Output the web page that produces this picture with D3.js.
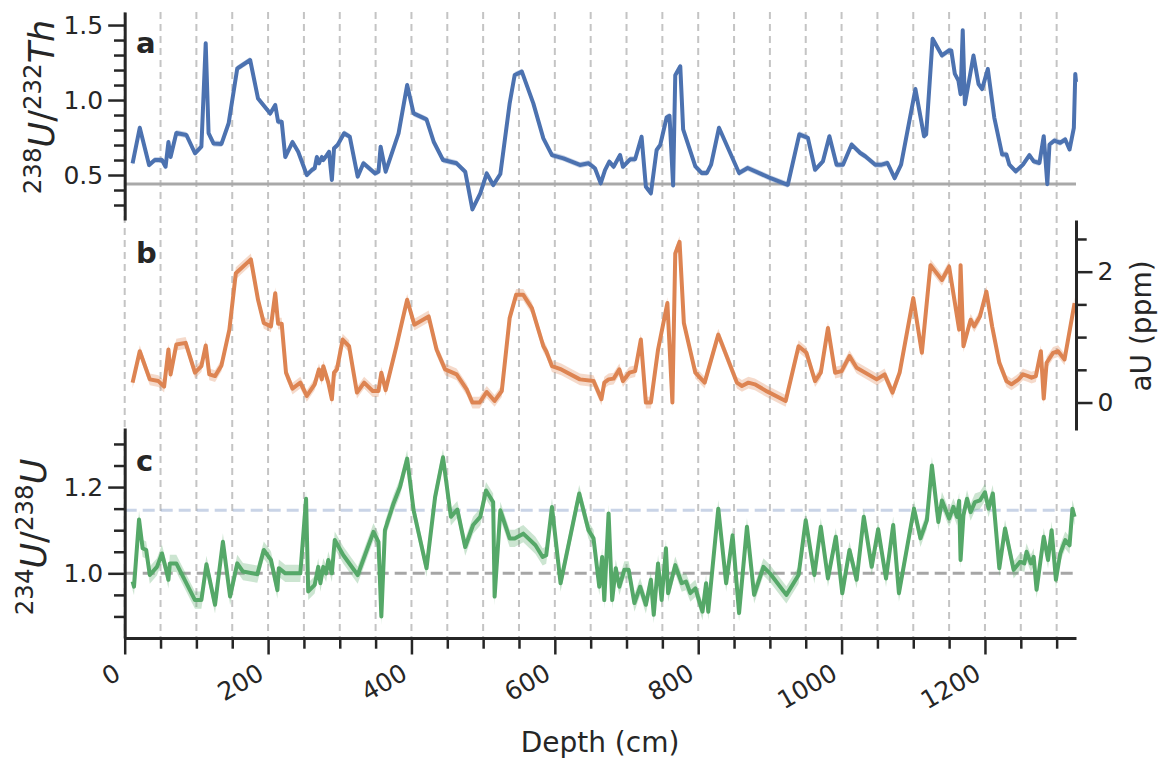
<!DOCTYPE html>
<html>
<head>
<meta charset="utf-8">
<script src="https://cdn.jsdelivr.net/npm/d3@7"></script>
<style>
  body { margin: 0; background: #fff; }
  text { font-family: "DejaVu Sans", sans-serif; fill: #262626; }
</style>
</head>
<body>
<div id="main"></div>
<script>
// panel a: 238U/232Th activity ratio
const depthA = [11,21,34,42,52,57,61,64,72,86,98,107,113,117,124,135,145,157,175,186,
    203,210,214,219,224,234,242,254,261,265,268,271,275,277,282,285,289,292,297,306,
    314,325,333,349,354,357,364,382,394,403,421,431,444,463,475,485,496,505,514,524,
    537,544,554,570,584,596,612,635,647,656,664,670,676,682,691,695,705,712,721,727,
    734,742,747,756,760,765,768,775,779,796,805,812,818,829,857,869,901,925,941,953,
    963,974,983,993,1002,1014,1026,1033,1047,1056,1064,1074,1083,1103,1115,1118,1127,1140,1150,1153,
    1158,1163,1166,1169,1172,1184,1191,1196,1204,1213,1224,1230,1234,1243,1253,1262,1268,1276,1282,1287,
    1290,1297,1305,1312,1318,1324,1326,1327];
const ratioA = [0.578,0.815,0.567,0.60,0.60,0.555,0.72,0.62,0.78,0.767,0.645,0.69,1.378,0.78,0.71,0.707,0.845,1.21,1.267,1.01,
    0.91,0.967,0.855,0.855,0.62,0.72,0.655,0.50,0.533,0.545,0.62,0.578,0.62,0.60,0.633,0.655,0.467,0.678,0.70,0.778,
    0.755,0.489,0.578,0.511,0.522,0.689,0.522,0.778,1.10,0.911,0.871,0.722,0.60,0.578,0.522,0.271,0.378,0.511,0.433,0.507,
    0.978,1.167,1.189,0.978,0.744,0.633,0.611,0.567,0.578,0.545,0.444,0.533,0.589,0.555,0.633,0.555,0.605,0.605,0.755,0.422,
    0.378,0.667,0.70,0.885,0.894,0.43,1.165,1.225,0.804,0.558,0.513,0.513,0.569,0.815,0.513,0.547,0.479,0.435,0.771,0.748,
    0.535,0.591,0.759,0.569,0.569,0.703,0.647,0.625,0.569,0.569,0.58,0.479,0.569,1.073,0.759,0.771,1.409,1.297,1.331,1.331,
    1.174,1.129,1.039,1.465,0.972,1.297,1.107,1.073,1.207,0.883,0.636,0.636,0.569,0.524,0.569,0.632,0.591,0.58,0.759,0.439,
    0.703,0.73,0.715,0.737,0.67,0.815,1.174,1.12];

// panel b: authigenic uranium (ppm)
const depthB = [11,21,35,47,55,61,64,72,85,98,107,113,118,126,135,146,155,176,186,194,
    204,210,214,219,225,234,245,254,265,271,275,277,284,289,292,296,304,313,324,334,
    346,354,358,364,379,394,404,424,435,447,463,477,485,495,505,516,526,537,546,556,
    568,584,588,596,609,635,654,665,669,675,682,690,695,704,712,720,727,734,744,757,
    764,768,774,780,796,809,828,854,861,870,879,896,922,940,951,963,971,981,991,1000,
    1011,1021,1049,1060,1071,1081,1100,1112,1124,1140,1150,1164,1166,1170,1180,1185,1193,1202,1210,1220,
    1230,1237,1247,1253,1260,1265,1271,1278,1282,1286,1295,1302,1311,1325];
const aU = [0.304,0.784,0.354,0.328,0.243,0.81,0.43,0.886,0.912,0.456,0.556,0.871,0.43,0.404,0.567,1.114,1.976,2.188,1.57,1.216,
    1.164,1.672,1.205,1.205,0.456,0.213,0.304,0.10,0.278,0.506,0.354,0.556,0.304,0.05,0.456,0.506,0.962,0.86,0.152,0.304,
    0.176,0.176,0.456,0.19,0.86,1.57,1.19,1.316,0.81,0.506,0.43,0.202,0.0,0.0,0.161,0.024,0.176,1.292,1.646,1.646,
    1.444,0.86,0.784,0.556,0.506,0.354,0.328,0.05,0.304,0.354,0.365,0.506,0.328,0.456,0.48,0.962,0.0,0.0,0.81,1.52,
    0.0,2.28,2.456,1.216,0.456,0.304,1.038,0.304,0.253,0.304,0.278,0.17,0.024,0.86,0.76,0.328,0.456,1.14,0.456,0.48,
    0.709,0.532,0.354,0.43,0.152,0.456,1.596,0.76,2.1,1.874,2.076,1.114,2.1,0.86,1.266,1.164,1.316,1.696,1.164,0.608,
    0.328,0.278,0.354,0.43,0.404,0.38,0.404,0.784,0.06,0.608,0.76,0.784,0.658,1.52];

// panel c: 234U/238U activity ratio
const depthC = [11,13,20,25,30,35,45,52,59,61,63,72,98,107,114,126,137,147,157,165,
    185,194,204,213,215,224,245,253,256,265,270,273,277,281,284,289,293,305,325,347,
    354,358,363,375,384,394,403,421,433,444,455,464,475,486,496,504,514,516,524,537,
    544,556,573,583,588,596,608,634,647,654,662,666,669,675,680,685,690,697,703,711,
    719,727,734,738,744,749,755,758,768,777,783,789,796,806,811,814,828,839,848,857,
    868,878,891,900,923,940,950,962,971,981,992,1001,1011,1021,1031,1042,1051,1062,1072,1080,
    1101,1110,1119,1126,1135,1140,1150,1156,1161,1164,1166,1170,1175,1180,1186,1193,1200,1205,1211,1220,
    1228,1240,1249,1255,1258,1264,1268,1272,1282,1288,1293,1299,1305,1312,1318,1322,1325];
const ratioC = [0.981,0.969,1.125,1.058,1.054,0.996,1.015,1.046,1.0,0.985,1.023,1.023,0.938,0.938,1.021,0.927,1.073,0.946,1.023,1.004,
    0.998,1.054,1.031,0.961,1.012,1.0,1.0,1.173,0.958,0.973,1.015,0.977,1.015,1.0,1.031,1.0,1.077,1.042,0.996,1.096,
    1.073,0.90,1.10,1.162,1.20,1.266,1.146,1.012,1.177,1.269,1.131,1.148,1.061,1.112,1.131,1.192,1.165,0.946,1.146,1.081,
    1.081,1.092,1.065,1.038,1.042,1.154,0.977,1.185,1.10,1.081,0.969,1.038,0.938,1.139,0.938,1.012,0.969,1.008,1.008,0.931,
    0.969,0.927,0.985,0.904,1.023,0.938,1.058,0.954,1.019,0.977,0.981,0.954,0.965,0.911,0.977,0.911,1.15,0.977,1.088,0.908,
    1.108,0.95,1.015,1.0,0.95,0.996,1.123,0.996,1.108,0.988,1.085,0.954,1.054,0.985,1.131,1.015,1.102,0.988,1.112,0.954,
    1.15,1.081,1.123,1.25,1.119,1.169,1.127,1.154,1.131,1.168,1.031,1.135,1.173,1.142,1.165,1.169,1.188,1.15,1.185,1.012,
    1.104,1.008,1.027,1.023,1.05,1.023,1.038,0.962,1.085,1.031,1.1,0.985,1.046,1.077,1.065,1.15,1.131];

// 1-sigma uncertainty of each record (half width of the shaded band)
const errA = 0.02;
const errB = 0.09;
const errC = 0.02;

// reference lines
const detritalA = 0.44;
const secularC = 1.0;
const seawaterC = 1.146;

// ticks
const xMajor = [0, 200, 400, 600, 800, 1000, 1200];
const xMinor = [50, 100, 150, 250, 300, 350, 450, 500, 550, 650, 700, 750, 850, 900, 950, 1050, 1100, 1150, 1250, 1300];
const xGrid = [0, 50, 100, 150, 200, 250, 300, 350, 400, 450, 500, 550, 600, 650, 700, 750, 800, 850, 900, 950, 1000, 1050, 1100, 1150, 1200, 1250, 1300];
const aMajor = [0.5, 1.0, 1.5];
const aMinor = [0.3, 0.4, 0.6, 0.7, 0.8, 0.9, 1.1, 1.2, 1.3, 1.4];
const bMajor = [0, 2];
const bMinor = [0.5, 1.0, 1.5, 2.5];
const cMajor = [1.0, 1.2];
const cMinor = [0.9, 0.95, 1.05, 1.1, 1.15, 1.25, 1.3];

const colors = { blue: '#4c72b0', orange: '#dd8452', green: '#55a868', ink: '#262626' };

[[depthA, ratioA], [depthB, aU], [depthC, ratioC]].forEach(([d, v], i) => {
    if (d.length !== v.length) throw new Error('length mismatch in series ' + i);
});

const svg = d3.select('#main')
    .append('svg')
    .attr('width', 1164)
    .attr('height', 761);

const xScale = d3.scaleLinear().domain([0, 1327]).range([124.7, 1076]);
const yA = d3.scaleLinear().domain([0.2, 1.587]).range([220, 12]);
const yB = d3.scaleLinear().domain([-0.42, 2.79]).range([430, 220]);
const yC = d3.scaleLinear().domain([0.85, 1.337]).range([638, 428]);

// dashed depth grid through all panels
svg.append('g')
    .selectAll('line')
    .data(xGrid)
    .enter()
    .append('line')
    .attr('x1', d => xScale(d)).attr('x2', d => xScale(d))
    .attr('y1', 12).attr('y2', 638)
    .attr('stroke', '#c4c4c4')
    .attr('stroke-width', 2)
    .attr('stroke-dasharray', '7,5');

// horizontal reference lines
function hline(y, value, color, dash) {
    svg.append('line')
        .attr('x1', xScale.range()[0]).attr('x2', xScale.range()[1])
        .attr('y1', y(value)).attr('y2', y(value))
        .attr('stroke', color)
        .attr('stroke-width', 3)
        .attr('stroke-dasharray', dash);
}
hline(yA, detritalA, '#a9a9a9', null);
hline(yC, secularC, '#a6a6a6', '12,6');
hline(yC, seawaterC, 'rgba(76,114,176,0.3)', '12,6');

// bands and lines
function drawSeries(depth, values, err, y, color) {
    const data = depth.map((d, i) => ({ depth: d, v: values[i] }));
    svg.append('path')
        .datum(data)
        .attr('fill', color)
        .attr('fill-opacity', 0.3)
        .attr('d', d3.area()
            .x(d => xScale(d.depth))
            .y0(d => y(d.v - err))
            .y1(d => y(d.v + err)));
    svg.append('path')
        .datum(data)
        .attr('fill', 'none')
        .attr('stroke', color)
        .attr('stroke-width', 4)
        .attr('stroke-linejoin', 'round')
        .attr('d', d3.line()
            .x(d => xScale(d.depth))
            .y(d => y(d.v)));
}
drawSeries(depthA, ratioA, errA, yA, colors.blue);
drawSeries(depthB, aU, errB, yB, colors.orange);
drawSeries(depthC, ratioC, errC, yC, colors.green);

// axes: one call for the minor ticks, one for the major ticks and labels
function styleAxis(g) {
    g.selectAll('path.domain').attr('stroke', colors.ink).attr('stroke-width', 3);
    g.selectAll('.tick line').attr('stroke', colors.ink).attr('stroke-width', 2.5);
    g.selectAll('.tick text').attr('fill', colors.ink).style('font-size', '25px')
        .style('font-family', '"DejaVu Sans", sans-serif');
}

function yAxis(axisFn, scale, major, minor, tx, fmt) {
    svg.append('g')
        .attr('transform', `translate(${tx},0)`)
        .call(axisFn(scale).tickValues(minor).tickSize(10.7).tickSizeOuter(0).tickFormat(''))
        .call(g => g.select('path.domain').remove())
        .call(styleAxis);
    svg.append('g')
        .attr('transform', `translate(${tx},0)`)
        .call(axisFn(scale).tickValues(major).tickSize(16.5).tickSizeOuter(0).tickPadding(5).tickFormat(fmt))
        .call(styleAxis);
}
yAxis(d3.axisLeft, yA, aMajor, aMinor, 124.7, d3.format('.1f'));
yAxis(d3.axisRight, yB, bMajor, bMinor, 1076, d3.format('d'));
yAxis(d3.axisLeft, yC, cMajor, cMinor, 124.7, d3.format('.1f'));

// x axis at the bottom of panel c
svg.append('g')
    .attr('transform', 'translate(0,638)')
    .call(d3.axisBottom(xScale).tickValues(xMinor).tickSize(10.7).tickSizeOuter(0).tickFormat(''))
    .call(g => g.select('path.domain').remove())
    .call(styleAxis);
svg.append('g')
    .attr('transform', 'translate(0,638)')
    .call(d3.axisBottom(xScale).tickValues(xMajor).tickSize(16.5).tickSizeOuter(0).tickFormat(d3.format('d')))
    .call(styleAxis)
    .call(g => g.selectAll('.tick text')
        .attr('x', 0).attr('y', 0).attr('dy', 0)
        .attr('text-anchor', 'end')
        .attr('transform', 'translate(-3,40) rotate(-30)'));

// axis labels
svg.append('text')
    .attr('x', 600).attr('y', 752)
    .attr('text-anchor', 'middle')
    .style('font-size', '28px')
    .text('Depth (cm)');

svg.append('text')
    .attr('transform', 'translate(1151,326) rotate(-90)')
    .attr('text-anchor', 'middle')
    .style('font-size', '28px')
    .text('aU (ppm)');

// mathtext-like label: superscript mass numbers, italic element symbols
function ratioLabel(tx, ty, parts) {
    const t = svg.append('text')
        .attr('transform', `translate(${tx},${ty}) rotate(-90)`)
        .attr('text-anchor', 'middle')
        .style('font-size', '35px');
    let raised = false;
    parts.forEach(([s, sup]) => {
        const span = t.append('tspan').text(s);
        if (sup && !raised) { span.attr('dy', -13); raised = true; }
        if (!sup && raised) { span.attr('dy', 13); raised = false; }
        if (sup) span.style('font-size', '24.5px');
        else span.style('font-style', s === '/' ? 'normal' : 'italic');
    });
}
ratioLabel(54, 107, [['238', true], ['U', false], ['/', false], ['232', true], ['Th', false]]);
ratioLabel(46, 537, [['234', true], ['U', false], ['/', false], ['238', true], ['U', false]]);

// panel letters
[['a', 53], ['b', 263], ['c', 471]].forEach(([s, y]) => {
    svg.append('text')
        .attr('x', 136).attr('y', y)
        .style('font-size', '29px')
        .style('font-weight', 'bold')
        .text(s);
});
</script>
</body>
</html>
